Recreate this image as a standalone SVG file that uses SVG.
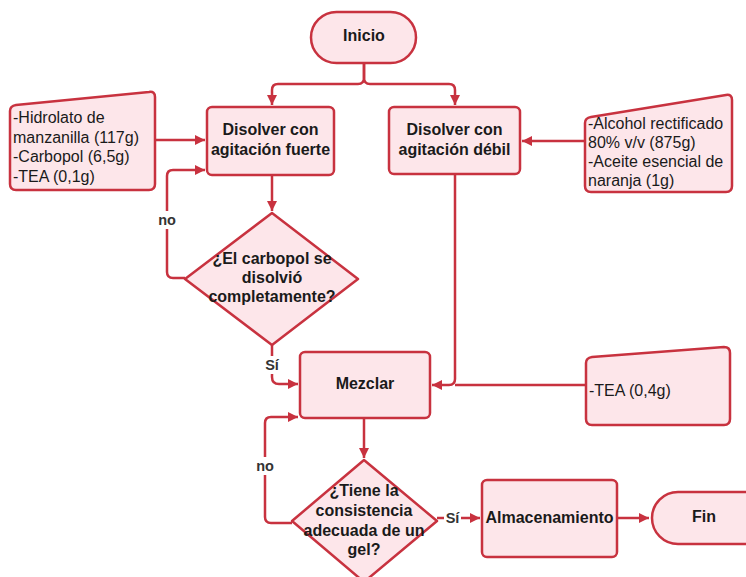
<svg xmlns="http://www.w3.org/2000/svg" width="746" height="577" viewBox="0 0 746 577">
<defs>
<marker id="ah" viewBox="0 0 10 10" refX="10" refY="5" markerWidth="10" markerHeight="10" markerUnits="userSpaceOnUse" orient="auto">
<path d="M0,0 L10,5 L0,10 z" fill="#c8323f"/>
</marker>
<style>
.n{fill:#fde6ea;stroke:#c8323f;stroke-width:2.5;stroke-linejoin:round}
.c{fill:none;stroke:#c8323f;stroke-width:2.5;stroke-linejoin:round}
.b{font-family:"Liberation Sans",Arial,sans-serif;font-weight:bold;font-size:16px;fill:#1a1a1a;text-anchor:middle}
.t{font-family:"Liberation Sans",Arial,sans-serif;font-size:16px;fill:#1a1a1a}
.l{font-family:"Liberation Sans",Arial,sans-serif;font-weight:bold;font-size:14.5px;fill:#333;text-anchor:middle}
</style>
</defs>
<rect width="746" height="577" fill="#ffffff"/>
<g id="connectors">
<path class="c" d="M364,63 V78 Q364,84 358,84 H278 Q272,84 272,90 V105" marker-end="url(#ah)"/>
<path class="c" d="M364,63 V78 Q364,84 370,84 H449 Q455,84 455,90 V105" marker-end="url(#ah)"/>
<path class="c" d="M155,140 H205" marker-end="url(#ah)"/>
<path class="c" d="M585,141 H522" marker-end="url(#ah)"/>
<path class="c" d="M272,175 V211" marker-end="url(#ah)"/>
<path class="c" d="M185,278 H173 Q167,278 167,272 V176 Q167,170 173,170 H205" marker-end="url(#ah)"/>
<path class="c" d="M272,345 V377 Q272,384 279,384 H298" marker-end="url(#ah)"/>
<path class="c" d="M455,174 V379 Q455,385 449,385 H432" marker-end="url(#ah)"/>
<path class="c" d="M586,385 H455"/>
<path class="c" d="M364,418 V458" marker-end="url(#ah)"/>
<path class="c" d="M292,523 H271 Q265,523 265,517 V423 Q265,417 271,417 H298" marker-end="url(#ah)"/>
<path class="c" d="M437,518 H480" marker-end="url(#ah)"/>
<path class="c" d="M617,518 H649" marker-end="url(#ah)"/>
<rect x="444" y="509" width="17" height="18" fill="#ffffff"/>
<text class="l" x="452.5" y="523">Sí</text>
<rect x="155" y="211" width="24" height="18" fill="#ffffff"/>
<text class="l" x="167" y="225">no</text>
<rect x="262" y="356" width="20" height="18" fill="#ffffff"/>
<text class="l" x="272" y="370">Sí</text>
<rect x="253" y="457" width="24" height="18" fill="#ffffff"/>
<text class="l" x="265" y="471">no</text>
</g>
<g id="inicio">
<rect class="n" x="311" y="12" width="105" height="51" rx="25.5"/>
<text class="b" x="364" y="41">Inicio</text>
</g>
<g id="input1">
<path class="n" d="M16,105 L149,92 Q155,91 155,97 V184 Q155,190 149,190 H16 Q10,190 10,184 V111 Q10,106 16,105 z"/>
<text class="t" x="13" y="123">-Hidrolato de</text>
<text class="t" x="13" y="142.5">manzanilla (117g)</text>
<text class="t" x="13" y="162">-Carbopol (6,5g)</text>
<text class="t" x="13" y="181.5">-TEA (0,1g)</text>
</g>
<g id="fuerte">
<rect class="n" x="207" y="107" width="127" height="68" rx="5"/>
<text class="b" x="270.5" y="135">Disolver con</text>
<text class="b" x="270.5" y="155">agitación fuerte</text>
</g>
<g id="debil">
<rect class="n" x="389" y="107" width="131" height="67" rx="5"/>
<text class="b" x="454.5" y="135">Disolver con</text>
<text class="b" x="454.5" y="155">agitación débil</text>
</g>
<g id="input2">
<path class="n" d="M591,117 L726,95 Q732,94 732,100 V186 Q732,192 726,192 H591 Q585,192 585,186 V123 Q585,118 591,117 z"/>
<text class="t" x="588" y="129">-Alcohol rectificado</text>
<text class="t" x="588" y="148">80% v/v (875g)</text>
<text class="t" x="588" y="167">-Aceite esencial de</text>
<text class="t" x="588" y="186">naranja (1g)</text>
</g>
<g id="decision1">
<path class="n" d="M272,213 L358,279 L272,345 L185,279 z"/>
<text class="b" x="272" y="264">¿El carbopol se</text>
<text class="b" x="272" y="283">disolvió</text>
<text class="b" x="272" y="302">completamente?</text>
</g>
<g id="mezclar">
<rect class="n" x="300" y="352" width="130" height="66" rx="5"/>
<text class="b" x="365" y="389">Mezclar</text>
</g>
<g id="input3">
<path class="n" d="M592,357 L724,347 Q730,347 730,353 V419 Q730,425 724,425 H592 Q586,425 586,419 V363 Q586,358 592,357 z"/>
<text class="t" x="589" y="396">-TEA (0,4g)</text>
</g>
<g id="decision2">
<path class="n" d="M364,460 L437,521 L364,582 L292,521 z"/>
<text class="b" x="364" y="496">¿Tiene la</text>
<text class="b" x="364" y="516">consistencia</text>
<text class="b" x="364" y="536">adecuada de un</text>
<text class="b" x="364" y="555">gel?</text>
</g>
<g id="almacenamiento">
<rect class="n" x="482" y="480" width="135" height="77" rx="5"/>
<text class="b" x="549.5" y="523">Almacenamiento</text>
</g>
<g id="fin">
<rect class="n" x="652" y="492" width="120" height="52" rx="26"/>
<text class="b" x="704" y="522">Fin</text>
</g>
</svg>
